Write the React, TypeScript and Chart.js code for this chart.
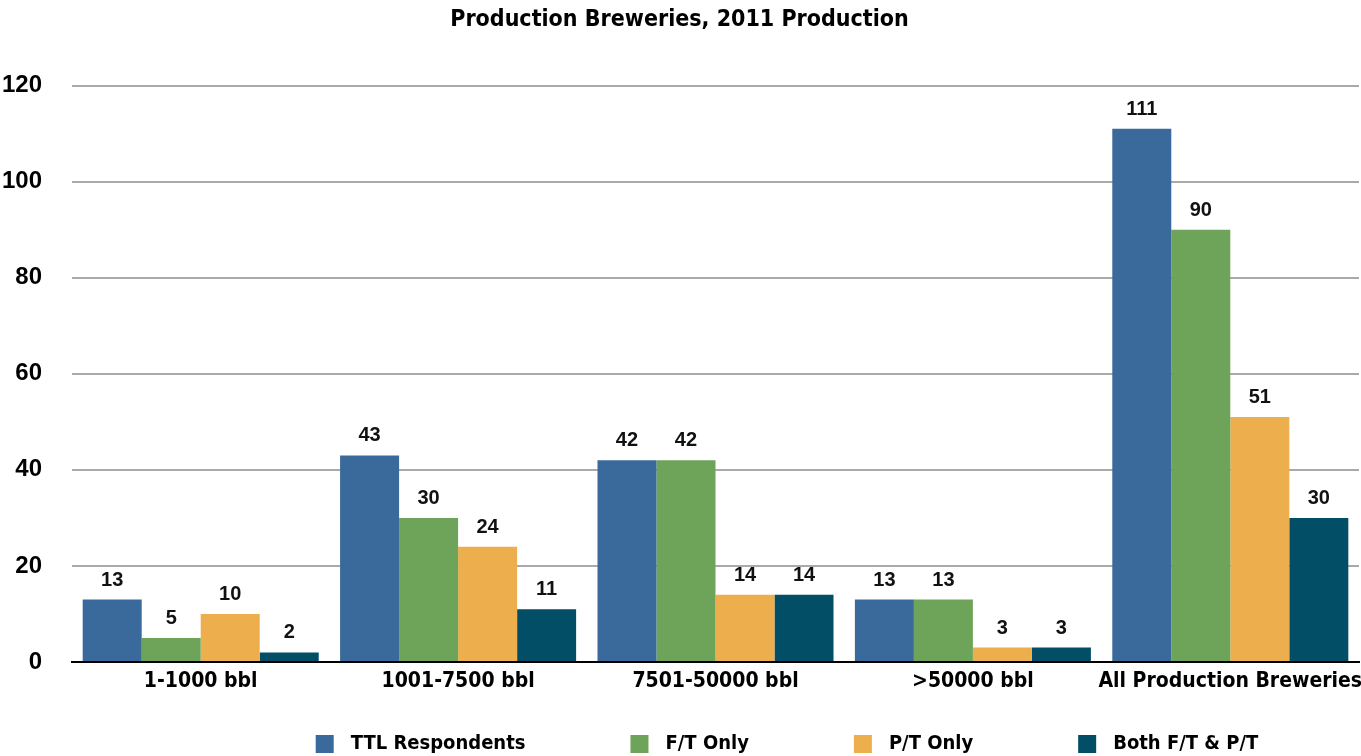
import React, { useEffect, useRef } from "react";
import { Chart, registerables } from "chart.js";

Chart.register(...registerables);

const categories = ["1-1000 bbl", "1001-7500 bbl", "7501-50000 bbl", ">50000 bbl", "All Production Breweries"];
const seriesNames = ["TTL Respondents", "F/T Only", "P/T Only", "Both F/T & P/T"];
const ttlRespondents = [13, 43, 42, 13, 111];
const ftOnly = [5, 30, 42, 13, 90];
const ptOnly = [10, 24, 14, 3, 51];
const bothFtPt = [2, 11, 14, 3, 30];
const seriesColors = ["#3a6a9b", "#6ea45a", "#edaf4d", "#024e67"];
const yTicks = [0, 20, 40, 60, 80, 100, 120];
const titleText = "Production Breweries, 2011 Production";

const NARROW = "'Liberation Sans Narrow', 'DejaVu Sans Condensed', 'Liberation Sans', sans-serif";
const REGULAR = "'Liberation Sans', Arial, sans-serif";

const valueLabels = {
  id: "valueLabels",
  afterDatasetsDraw(chart: any) {
    const ctx = chart.ctx;
    ctx.save();
    ctx.font = `bold 20px ${REGULAR}`;
    ctx.fillStyle = "#111";
    ctx.textAlign = "center";
    ctx.textBaseline = "alphabetic";
    chart.data.datasets.forEach((ds: any, di: number) => {
      const meta = chart.getDatasetMeta(di);
      meta.data.forEach((el: any, i: number) => {
        ctx.fillText(String(ds.data[i]), el.x, el.y - 14);
      });
    });
    ctx.restore();
  },
};

const customLegend = {
  id: "customLegend",
  afterDraw(chart: any) {
    const ctx = chart.ctx;
    ctx.save();
    ctx.font = `bold 20px ${NARROW}`;
    const box = 18;
    const gap = 17;
    const spacing = 105;
    const widths = chart.data.datasets.map((ds: any) => box + gap + ctx.measureText(ds.label).width);
    const total = widths.reduce((a: number, b: number) => a + b, 0) + spacing * (widths.length - 1);
    let x = 787 - total / 2;
    const cy = 744;
    ctx.textBaseline = "middle";
    ctx.textAlign = "left";
    chart.data.datasets.forEach((ds: any, i: number) => {
      ctx.fillStyle = ds.backgroundColor;
      ctx.fillRect(x, cy - box / 2, box, box);
      ctx.fillStyle = "#000";
      ctx.fillText(ds.label, x + box + gap, cy);
      x += widths[i] + spacing;
    });
    ctx.restore();
  },
};

export default function App() {
  const ref = useRef<HTMLCanvasElement>(null);
  useEffect(() => {
    document.body.style.margin = "0";
    const values = [ttlRespondents, ftOnly, ptOnly, bothFtPt];
    const chart = new Chart(ref.current!, {
      type: "bar",
      data: {
        labels: categories,
        datasets: seriesNames.map((name, i) => ({
          label: name,
          data: values[i],
          backgroundColor: seriesColors[i],
          borderWidth: 0,
          categoryPercentage: 0.917,
          barPercentage: 1,
        })),
      },
      options: {
        responsive: false,
        animation: false,
        devicePixelRatio: 1,
        layout: { padding: { left: 0, right: 2, top: 0, bottom: 54 } },
        plugins: {
          legend: { display: false },
          tooltip: { enabled: false },
          title: {
            display: true,
            text: titleText,
            color: "#000",
            font: { family: NARROW, size: 23, weight: "bold", lineHeight: 1.2 },
            padding: { top: 6, bottom: 52 },
          },
        },
        scales: {
          x: {
            grid: { display: false, drawTicks: false },
            border: { display: true, color: "#000", width: 2 },
            ticks: {
              color: "#000",
              padding: 7,
              font: { family: NARROW, size: 21, weight: "bold", lineHeight: 1.2 },
              maxRotation: 0,
              autoSkip: false,
            },
            afterFit: (s: any) => {
              s.height = 40;
              s.paddingLeft = 0;
              s.paddingRight = 0;
            },
          },
          y: {
            min: 0,
            max: 120,
            afterBuildTicks: (s: any) => {
              s.ticks = yTicks.map((v) => ({ value: v }));
            },
            grid: {
              drawTicks: false,
              color: (c: any) => (c.tick && c.tick.value === 0 ? "#000" : "#aaaaaa"),
              lineWidth: 2,
            },
            border: { display: false },
            ticks: {
              color: "#000",
              padding: 30,
              font: { family: REGULAR, size: 24, weight: "bold" },
            },
            afterFit: (s: any) => {
              s.width = 72;
            },
          },
        },
      },
      plugins: [valueLabels, customLegend],
    });
    return () => chart.destroy();
  }, []);
  return (
    <div style={{ width: 1361, height: 756 }}>
      <canvas ref={ref} width={1361} height={756} />
    </div>
  );
}
